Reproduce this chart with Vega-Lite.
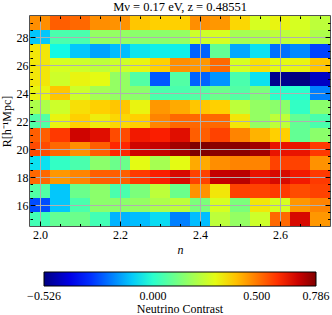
{
  "$schema": "https://vega.github.io/schema/vega-lite/v6.json",
  "width": 300,
  "height": 210,
  "autosize": "none",
  "padding": {"left": 30, "top": 16, "right": 2, "bottom": 89},
  "background": "white",
  "config": {"view": {"stroke": "#1a1a1a", "strokeWidth": 1.5}, "font": "Liberation Serif"},
  "title": {"text": "Mν = 0.17 eV, z = 0.48551", "font": "Liberation Serif", "fontSize": 12.5, "fontWeight": "normal", "offset": 2, "anchor": "middle", "color": "black"},
  "data": {"values": [
    {"n":2.0,"R":29,"v":0.471},{"n":2.05,"R":29,"v":0.537},{"n":2.1,"R":29,"v":0.524},{"n":2.15,"R":29,"v":0.471},{"n":2.2,"R":29,"v":0.465},{"n":2.25,"R":29,"v":0.392},{"n":2.3,"R":29,"v":0.379},{"n":2.35,"R":29,"v":0.379},{"n":2.4,"R":29,"v":0.471},{"n":2.45,"R":29,"v":0.458},{"n":2.5,"R":29,"v":0.366},{"n":2.55,"R":29,"v":0.274},{"n":2.6,"R":29,"v":0.314},{"n":2.65,"R":29,"v":0.274},{"n":2.7,"R":29,"v":0.235},
    {"n":2.0,"R":28,"v":-0.106},{"n":2.05,"R":28,"v":0.051},{"n":2.1,"R":28,"v":0.051},{"n":2.15,"R":28,"v":0.169},{"n":2.2,"R":28,"v":0.169},{"n":2.25,"R":28,"v":0.156},{"n":2.3,"R":28,"v":0.156},{"n":2.35,"R":28,"v":0.169},{"n":2.4,"R":28,"v":0.261},{"n":2.45,"R":28,"v":0.274},{"n":2.5,"R":28,"v":0.196},{"n":2.55,"R":28,"v":0.209},{"n":2.6,"R":28,"v":0.235},{"n":2.65,"R":28,"v":0.261},{"n":2.7,"R":28,"v":0.209},
    {"n":2.0,"R":27,"v":0.340},{"n":2.05,"R":27,"v":-0.041},{"n":2.1,"R":27,"v":-0.106},{"n":2.15,"R":27,"v":-0.152},{"n":2.2,"R":27,"v":-0.119},{"n":2.25,"R":27,"v":-0.067},{"n":2.3,"R":27,"v":-0.054},{"n":2.35,"R":27,"v":-0.054},{"n":2.4,"R":27,"v":-0.237},{"n":2.45,"R":27,"v":0.091},{"n":2.5,"R":27,"v":-0.146},{"n":2.55,"R":27,"v":-0.073},{"n":2.6,"R":27,"v":-0.218},{"n":2.65,"R":27,"v":-0.185},{"n":2.7,"R":27,"v":-0.277},
    {"n":2.0,"R":26,"v":0.340},{"n":2.05,"R":26,"v":0.274},{"n":2.1,"R":26,"v":0.261},{"n":2.15,"R":26,"v":0.235},{"n":2.2,"R":26,"v":0.261},{"n":2.25,"R":26,"v":0.314},{"n":2.3,"R":26,"v":0.379},{"n":2.35,"R":26,"v":0.471},{"n":2.4,"R":26,"v":0.458},{"n":2.45,"R":26,"v":0.524},{"n":2.5,"R":26,"v":0.274},{"n":2.55,"R":26,"v":0.353},{"n":2.6,"R":26,"v":0.301},{"n":2.65,"R":26,"v":0.314},{"n":2.7,"R":26,"v":0.392},
    {"n":2.0,"R":25,"v":0.340},{"n":2.05,"R":25,"v":0.261},{"n":2.1,"R":25,"v":0.314},{"n":2.15,"R":25,"v":0.301},{"n":2.2,"R":25,"v":0.169},{"n":2.25,"R":25,"v":0.064},{"n":2.3,"R":25,"v":-0.250},{"n":2.35,"R":25,"v":0.064},{"n":2.4,"R":25,"v":-0.237},{"n":2.45,"R":25,"v":-0.172},{"n":2.5,"R":25,"v":0.051},{"n":2.55,"R":25,"v":-0.073},{"n":2.6,"R":25,"v":-0.510},{"n":2.65,"R":25,"v":-0.526},{"n":2.7,"R":25,"v":-0.450},
    {"n":2.0,"R":24,"v":0.314},{"n":2.05,"R":24,"v":0.392},{"n":2.1,"R":24,"v":0.261},{"n":2.15,"R":24,"v":0.196},{"n":2.2,"R":24,"v":0.169},{"n":2.25,"R":24,"v":0.156},{"n":2.3,"R":24,"v":0.051},{"n":2.35,"R":24,"v":0.051},{"n":2.4,"R":24,"v":0.064},{"n":2.45,"R":24,"v":0.104},{"n":2.5,"R":24,"v":0.064},{"n":2.55,"R":24,"v":0.130},{"n":2.6,"R":24,"v":-0.001},{"n":2.65,"R":24,"v":-0.001},{"n":2.7,"R":24,"v":-0.198},
    {"n":2.0,"R":23,"v":0.209},{"n":2.05,"R":23,"v":0.261},{"n":2.1,"R":23,"v":0.353},{"n":2.15,"R":23,"v":0.379},{"n":2.2,"R":23,"v":0.392},{"n":2.25,"R":23,"v":0.314},{"n":2.3,"R":23,"v":0.458},{"n":2.35,"R":23,"v":0.432},{"n":2.4,"R":23,"v":0.392},{"n":2.45,"R":23,"v":0.379},{"n":2.5,"R":23,"v":0.235},{"n":2.55,"R":23,"v":0.169},{"n":2.6,"R":23,"v":0.156},{"n":2.65,"R":23,"v":0.012},{"n":2.7,"R":23,"v":0.156},
    {"n":2.0,"R":22,"v":0.064},{"n":2.05,"R":22,"v":0.314},{"n":2.1,"R":22,"v":0.379},{"n":2.15,"R":22,"v":0.327},{"n":2.2,"R":22,"v":0.366},{"n":2.25,"R":22,"v":0.379},{"n":2.3,"R":22,"v":0.484},{"n":2.35,"R":22,"v":0.524},{"n":2.4,"R":22,"v":0.524},{"n":2.45,"R":22,"v":0.524},{"n":2.5,"R":22,"v":0.340},{"n":2.55,"R":22,"v":0.169},{"n":2.6,"R":22,"v":0.235},{"n":2.65,"R":22,"v":0.091},{"n":2.7,"R":22,"v":0.051},
    {"n":2.0,"R":21,"v":0.537},{"n":2.05,"R":21,"v":0.589},{"n":2.1,"R":21,"v":0.694},{"n":2.15,"R":21,"v":0.668},{"n":2.2,"R":21,"v":0.563},{"n":2.25,"R":21,"v":0.642},{"n":2.3,"R":21,"v":0.629},{"n":2.35,"R":21,"v":0.668},{"n":2.4,"R":21,"v":0.537},{"n":2.45,"R":21,"v":0.576},{"n":2.5,"R":21,"v":0.484},{"n":2.55,"R":21,"v":0.419},{"n":2.6,"R":21,"v":0.379},{"n":2.65,"R":21,"v":0.091},{"n":2.7,"R":21,"v":0.156},
    {"n":2.0,"R":20,"v":0.563},{"n":2.05,"R":20,"v":0.524},{"n":2.1,"R":20,"v":0.471},{"n":2.15,"R":20,"v":0.537},{"n":2.2,"R":20,"v":0.615},{"n":2.25,"R":20,"v":0.694},{"n":2.3,"R":20,"v":0.707},{"n":2.35,"R":20,"v":0.747},{"n":2.4,"R":20,"v":0.786},{"n":2.45,"R":20,"v":0.773},{"n":2.5,"R":20,"v":0.773},{"n":2.55,"R":20,"v":0.747},{"n":2.6,"R":20,"v":0.655},{"n":2.65,"R":20,"v":0.655},{"n":2.7,"R":20,"v":0.589},
    {"n":2.0,"R":19,"v":-0.073},{"n":2.05,"R":19,"v":0.012},{"n":2.1,"R":19,"v":0.051},{"n":2.15,"R":19,"v":0.156},{"n":2.2,"R":19,"v":0.104},{"n":2.25,"R":19,"v":0.301},{"n":2.3,"R":19,"v":0.196},{"n":2.35,"R":19,"v":0.301},{"n":2.4,"R":19,"v":0.432},{"n":2.45,"R":19,"v":0.471},{"n":2.5,"R":19,"v":0.484},{"n":2.55,"R":19,"v":0.484},{"n":2.6,"R":19,"v":0.576},{"n":2.65,"R":19,"v":0.576},{"n":2.7,"R":19,"v":0.465},
    {"n":2.0,"R":18,"v":0.524},{"n":2.05,"R":18,"v":0.458},{"n":2.1,"R":18,"v":0.484},{"n":2.15,"R":18,"v":0.537},{"n":2.2,"R":18,"v":0.537},{"n":2.25,"R":18,"v":0.589},{"n":2.3,"R":18,"v":0.629},{"n":2.35,"R":18,"v":0.681},{"n":2.4,"R":18,"v":0.576},{"n":2.45,"R":18,"v":0.707},{"n":2.5,"R":18,"v":0.720},{"n":2.55,"R":18,"v":0.655},{"n":2.6,"R":18,"v":0.681},{"n":2.65,"R":18,"v":0.642},{"n":2.7,"R":18,"v":0.589},
    {"n":2.0,"R":17,"v":0.064},{"n":2.05,"R":17,"v":-0.106},{"n":2.1,"R":17,"v":0.104},{"n":2.15,"R":17,"v":0.156},{"n":2.2,"R":17,"v":0.051},{"n":2.25,"R":17,"v":0.130},{"n":2.3,"R":17,"v":0.235},{"n":2.35,"R":17,"v":0.104},{"n":2.4,"R":17,"v":0.465},{"n":2.45,"R":17,"v":0.340},{"n":2.5,"R":17,"v":0.576},{"n":2.55,"R":17,"v":0.576},{"n":2.6,"R":17,"v":0.589},{"n":2.65,"R":17,"v":0.563},{"n":2.7,"R":17,"v":0.576},
    {"n":2.0,"R":16,"v":-0.264},{"n":2.05,"R":16,"v":-0.106},{"n":2.1,"R":16,"v":0.051},{"n":2.15,"R":16,"v":0.156},{"n":2.2,"R":16,"v":0.156},{"n":2.25,"R":16,"v":0.169},{"n":2.3,"R":16,"v":0.209},{"n":2.35,"R":16,"v":0.235},{"n":2.4,"R":16,"v":0.130},{"n":2.45,"R":16,"v":0.274},{"n":2.5,"R":16,"v":0.130},{"n":2.55,"R":16,"v":0.340},{"n":2.6,"R":16,"v":0.274},{"n":2.65,"R":16,"v":0.458},{"n":2.7,"R":16,"v":0.484},
    {"n":2.0,"R":15,"v":0.038},{"n":2.05,"R":15,"v":0.091},{"n":2.1,"R":15,"v":0.104},{"n":2.15,"R":15,"v":0.038},{"n":2.2,"R":15,"v":-0.132},{"n":2.25,"R":15,"v":-0.119},{"n":2.3,"R":15,"v":-0.080},{"n":2.35,"R":15,"v":-0.198},{"n":2.4,"R":15,"v":-0.119},{"n":2.45,"R":15,"v":0.235},{"n":2.5,"R":15,"v":0.169},{"n":2.55,"R":15,"v":0.261},{"n":2.6,"R":15,"v":0.524},{"n":2.65,"R":15,"v":0.681},{"n":2.7,"R":15,"v":0.458}
  ]},
  "layer": [
    {
      "mark": {"type": "rect", "width": 20, "height": 14},
      "encoding": {
        "x": {"field": "n", "type": "quantitative",
          "scale": {"domain": [1.975, 2.725], "nice": false, "zero": false},
          "axis": {"orient": "bottom",
            "values": [2.0,2.05,2.1,2.15,2.2,2.25,2.3,2.35,2.4,2.45,2.5,2.55,2.6,2.65,2.7],
            "format": ".1f",
            "labelExpr": "abs(datum.value*5-round(datum.value*5))<1e-6 ? datum.label : ''",
            "labelFont": "Liberation Serif", "labelFontSize": 12, "labelColor": "black",
            "labelPadding": 8, "labelOverlap": false, "labelFlush": false,
            "domain": false, "ticks": true, "tickColor": "black", "tickWidth": 1,
            "tickSize": {"condition": {"test": "abs(datum.value*5-round(datum.value*5))<1e-6", "value": -5}, "value": -2.5},
            "grid": true, "gridColor": "#b0b0b0", "gridWidth": 1,
            "gridOpacity": {"condition": {"test": "abs(datum.value*5-round(datum.value*5))<1e-6", "value": 1}, "value": 0},
            "zindex": 1,
            "title": "n", "titleFont": "Liberation Serif", "titleFontStyle": "italic", "titleFontSize": 12, "titleFontWeight": "normal", "titleColor": "black", "titlePadding": 2}
        },
        "y": {"field": "R", "type": "quantitative",
          "scale": {"domain": [14.5, 29.5], "nice": false, "zero": false},
          "axis": {"orient": "left",
            "values": [15,15.5,16,16.5,17,17.5,18,18.5,19,19.5,20,20.5,21,21.5,22,22.5,23,23.5,24,24.5,25,25.5,26,26.5,27,27.5,28,28.5,29],
            "labelExpr": "datum.value % 2 == 0 ? format(datum.value, 'd') : ''",
            "labelFont": "Liberation Serif", "labelFontSize": 12, "labelColor": "black",
            "labelPadding": 7, "labelOverlap": false, "labelFlush": false,
            "domain": false, "ticks": true, "tickColor": "black", "tickWidth": 1,
            "tickSize": {"condition": {"test": "datum.value % 2 == 0", "value": -5}, "value": -2.5},
            "grid": true, "gridColor": "#b0b0b0", "gridWidth": 1,
            "gridOpacity": {"condition": {"test": "datum.value % 2 == 0", "value": 1}, "value": 0},
            "zindex": 1,
            "title": "R[h⁻¹Mpc]", "titleFont": "Liberation Serif", "titleFontSize": 12, "titleFontWeight": "normal", "titleColor": "black", "titlePadding": 3}
        },
        "color": {"field": "v", "type": "quantitative",
          "scale": {"domain": [-0.526, 0.786], "interpolate": "rgb",
            "range": ["#000080","#0000c8","#0000ff","#0040ff","#0080ff","#00bfff","#15ffe2","#48ffaf","#7bff7b","#afff48","#e2ff15","#ffd200","#ff9700","#ff5c00","#ff2100","#c80000","#800000"]},
          "legend": {"orient": "none", "legendX": 14, "legendY": 256, "direction": "horizontal",
            "gradientLength": 272, "gradientThickness": 14, "gradientStrokeColor": "black", "gradientStrokeWidth": 1,
            "values": [-0.526, 0, 0.5, 0.786], "format": ".3f", "labelAlign": "center", "labelOverlap": false,
            "labelFont": "Liberation Serif", "labelFontSize": 12, "labelColor": "black", "labelOffset": 5,
            "padding": 0,
            "encode": {"labels": {"update": {"align": {"value": "center"}}}},
            "title": "Neutrino Contrast", "titleOrient": "bottom", "titleAnchor": "middle",
            "titleFont": "Liberation Serif", "titleFontSize": 12, "titleFontWeight": "normal", "titleColor": "black", "titlePadding": 2}
        }
      }
    },
    {
      "mark": {"type": "point", "opacity": 0},
      "encoding": {
        "x": {"field": "n", "type": "quantitative",
          "axis": {"orient": "top",
            "values": [2.0,2.05,2.1,2.15,2.2,2.25,2.3,2.35,2.4,2.45,2.5,2.55,2.6,2.65,2.7],
            "labels": false, "domain": false, "grid": false, "title": null, "tickColor": "black", "tickWidth": 1,
            "tickSize": {"condition": {"test": "abs(datum.value*5-round(datum.value*5))<1e-6", "value": -5}, "value": -2.5},
            "zindex": 1}
        },
        "y": {"field": "R", "type": "quantitative",
          "axis": {"orient": "right",
            "values": [15,15.5,16,16.5,17,17.5,18,18.5,19,19.5,20,20.5,21,21.5,22,22.5,23,23.5,24,24.5,25,25.5,26,26.5,27,27.5,28,28.5,29],
            "labels": false, "domain": false, "grid": false, "title": null, "tickColor": "black", "tickWidth": 1,
            "tickSize": {"condition": {"test": "datum.value % 2 == 0", "value": -5}, "value": -2.5},
            "zindex": 1}
        }
      }
    }
  ],
  "resolve": {"axis": {"x": "independent", "y": "independent"}}
}
